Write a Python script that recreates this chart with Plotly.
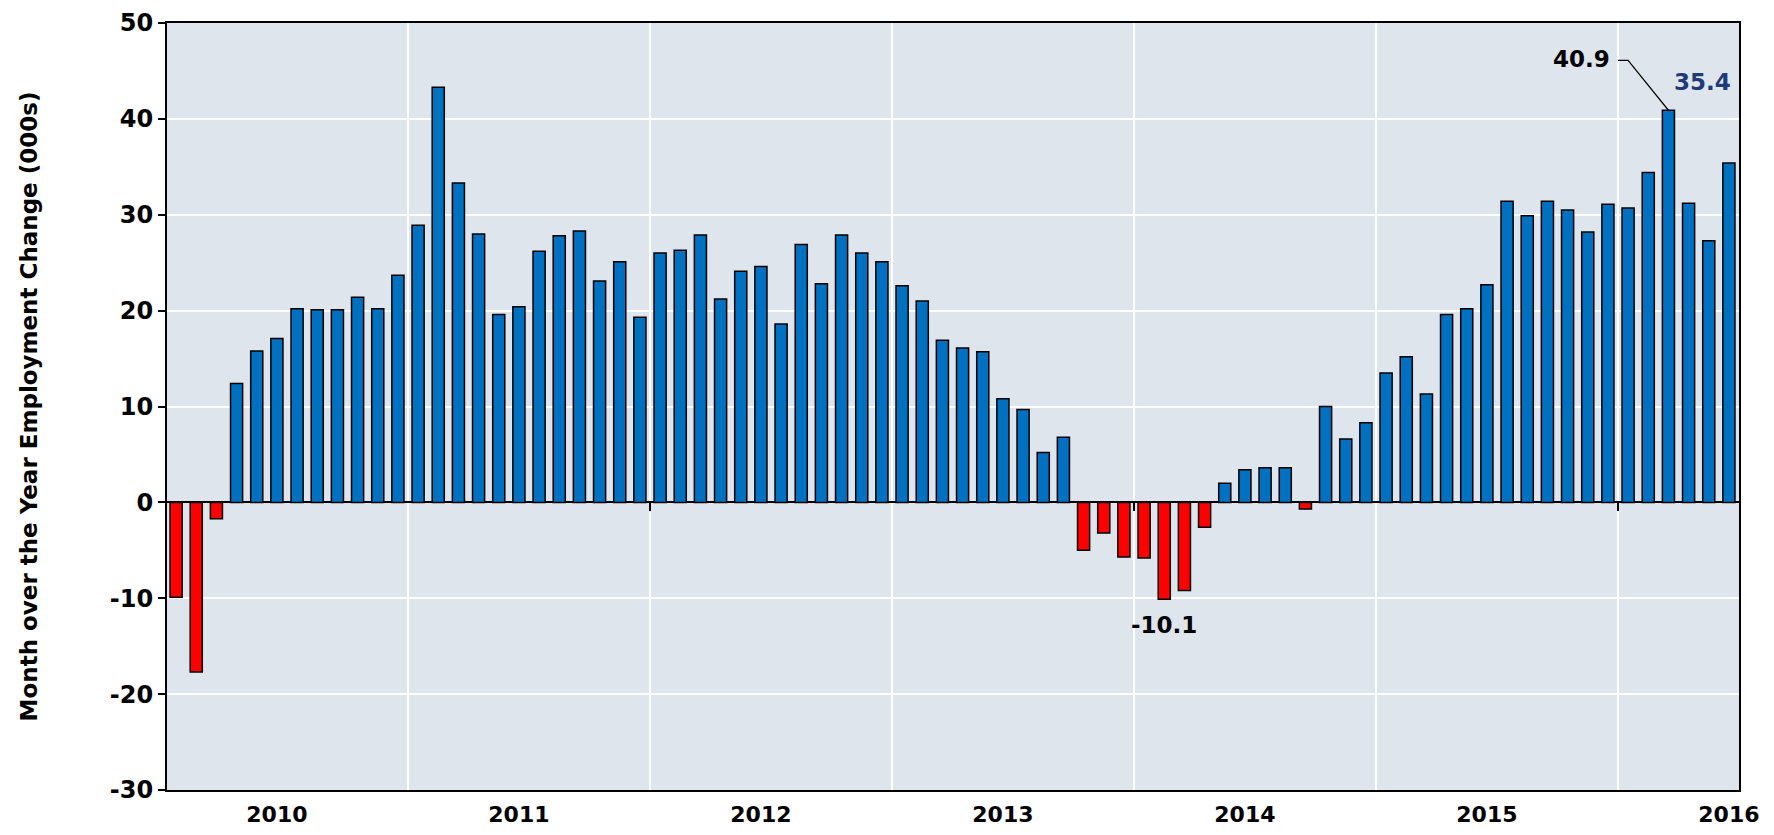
import plotly.graph_objects as go

# month over the year employment change, Jan 2010 - Jun 2016 (thousands)
anos = ['2010', '2011', '2012', '2013', '2014', '2015', '2016']
variacao = [
    -9.9, -17.7, -1.7, 12.4, 15.8, 17.1, 20.2, 20.1, 20.1, 21.4, 20.2, 23.7,   # 2010
    28.9, 43.3, 33.3, 28.0, 19.6, 20.4, 26.2, 27.8, 28.3, 23.1, 25.1, 19.3,    # 2011
    26.0, 26.3, 27.9, 21.2, 24.1, 24.6, 18.6, 26.9, 22.8, 27.9, 26.0, 25.1,    # 2012
    22.6, 21.0, 16.9, 16.1, 15.7, 10.8, 9.7, 5.2, 6.8, -5.0, -3.2, -5.7,       # 2013
    -5.8, -10.1, -9.2, -2.6, 2.0, 3.4, 3.6, 3.6, -0.7, 10.0, 6.6, 8.3,         # 2014
    13.5, 15.2, 11.3, 19.6, 20.2, 22.7, 31.4, 29.9, 31.4, 30.5, 28.2, 31.1,    # 2015
    30.7, 34.4, 40.9, 31.2, 27.3, 35.4,                                        # 2016
]
meses = list(range(len(variacao)))

mes_minimo = 49   # -10.1
mes_pico = 74     # 40.9
mes_ultimo = len(variacao) - 1  # 35.4

cores = ['#ff0000' if v < 0 else '#0070c0' for v in variacao]

fonte = "DejaVu Sans"

# inicio de cada ano (entre dezembro e janeiro)
viradas = [11.5 + 12 * i for i in range(len(anos) - 1)]

fig = go.Figure()

fig.add_trace(go.Bar(
    x=meses, y=variacao,
    marker=dict(color=cores, line=dict(color='black', width=1.5)),
    width=0.6,
    showlegend=False,
    hoverinfo='x+y'
))

# pequenos tracos no eixo zero (2012, 2014, 2016)
fig.add_trace(go.Scatter(
    x=viradas[1::2], y=[-0.4] * len(viradas[1::2]),
    mode='markers',
    marker=dict(symbol='line-ns-open', size=7, color='black', line=dict(color='black', width=2)),
    showlegend=False, hoverinfo='skip'
))

# linha de chamada do pico
fig.add_trace(go.Scatter(
    x=[mes_pico - 2.5, mes_pico - 2.0, mes_pico],
    y=[variacao[mes_pico] + 5.2, variacao[mes_pico] + 5.2, variacao[mes_pico]],
    mode='lines',
    line=dict(color='black', width=1.2),
    showlegend=False,
    hoverinfo='skip'
))

fig.add_annotation(x=mes_minimo, y=variacao[mes_minimo] - 2.7, text='<b>%.1f</b>' % variacao[mes_minimo],
                   showarrow=False, font=dict(family=fonte, size=23, color='black'))
fig.add_annotation(x=mes_pico - 2.8, y=variacao[mes_pico] + 5.3, text='<b>%.1f</b>' % variacao[mes_pico],
                   showarrow=False, xanchor='right', font=dict(family=fonte, size=23, color='black'))
fig.add_annotation(x=mes_ultimo + 0.2, y=variacao[mes_ultimo] + 8.4, text='<b>%.1f</b>' % variacao[mes_ultimo],
                   showarrow=False, xanchor='right', font=dict(family=fonte, size=23, color='#1f3a78'))

fig.update_layout(
    width=1758, height=819,
    margin=dict(l=159, r=27, t=15, b=37),
    paper_bgcolor='white',
    plot_bgcolor='#dfe5ec',
    font=dict(family=fonte, color='black'),
)

fig.update_xaxes(
    range=[-0.45, len(variacao) - 0.5],
    tickmode='array',
    tickvals=[5 + 12 * i for i in range(len(anos))],
    ticktext=['<b>%s</b>' % a for a in anos],
    tickfont=dict(family=fonte, size=22, color='black'),
    ticks='', ticklabelstandoff=4, ticklabeloverflow='allow',
    showgrid=False,
    minor=dict(tickvals=viradas, showgrid=True, gridcolor='white', gridwidth=2, ticks=''),
    showline=True, mirror=True, linecolor='black', linewidth=2,
    zeroline=False, automargin=False,
)

fig.update_yaxes(
    range=[-30, 50],
    tickvals=list(range(-30, 51, 10)),
    ticktext=['<b>%d</b>' % v for v in range(-30, 51, 10)],
    tickfont=dict(family=fonte, size=24, color='black'),
    ticks='outside', ticklen=7, tickwidth=2, tickcolor='black',
    ticklabeloverflow='allow',
    showgrid=True, gridcolor='white', gridwidth=2,
    zeroline=True, zerolinecolor='black', zerolinewidth=2,
    showline=True, mirror=True, linecolor='black', linewidth=2,
    automargin=False,
    title=dict(text='<b>Month over the Year Employment Change (000s)</b>',
               font=dict(family=fonte, size=23, color='black'), standoff=66),
)

fig.write_html("out.html")
